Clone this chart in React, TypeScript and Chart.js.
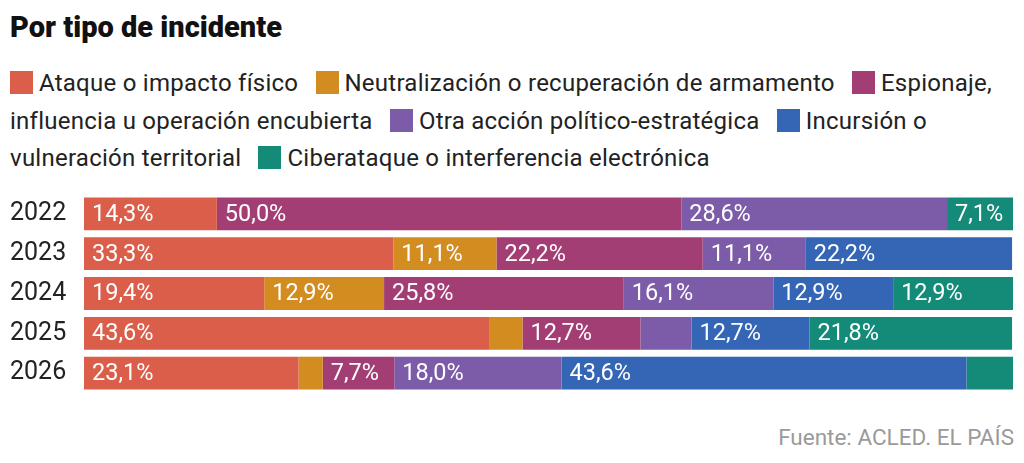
import React, { useEffect, useRef } from "react";
import { Chart, registerables } from "chart.js";

Chart.register(...registerables);

const years = ["2022", "2023", "2024", "2025", "2026"];
const seriesNames = [
  "Ataque o impacto físico",
  "Neutralización o recuperación de armamento",
  "Espionaje, influencia u operación encubierta",
  "Otra acción político-estratégica",
  "Incursión o vulneración territorial",
  "Ciberataque o interferencia electrónica",
];
const seriesColors = ["#DA5E49", "#D38C1F", "#A33E74", "#7C5BA8", "#3466B5", "#148A78"];

const ataque = [14.3, 33.3, 19.4, 43.6, 23.1];
const neutralizacion = [0, 11.1, 12.9, 3.6, 2.6];
const espionaje = [50.0, 22.2, 25.8, 12.7, 7.7];
const otra = [28.6, 11.1, 16.1, 5.5, 18.0];
const incursion = [0, 22.2, 12.9, 12.7, 43.6];
const ciber = [7.1, 0, 12.9, 21.8, 5.0];

const seriesValues = [ataque, neutralizacion, espionaje, otra, incursion, ciber];

const FONT = "Roboto, 'Noto Sans', sans-serif";
const LABEL_MIN = 6;

const barLabels = {
  id: "barLabels",
  afterDatasetsDraw(chart: any) {
    const ctx = chart.ctx;
    ctx.save();
    ctx.font = `400 23.5px ${FONT}`;
    ctx.fillStyle = "#ffffff";
    ctx.textAlign = "left";
    ctx.textBaseline = "middle";
    chart.data.datasets.forEach((ds: any, di: number) => {
      const meta = chart.getDatasetMeta(di);
      meta.data.forEach((el: any, i: number) => {
        const v = ds.data[i];
        if (v >= LABEL_MIN) {
          const txt = v.toFixed(1).replace(".", ",") + "%";
          ctx.fillText(txt, Math.min(el.base, el.x) + 8, el.y + 1);
        }
      });
    });
    ctx.restore();
  },
};

export default function App() {
  const canvasRef = useRef<HTMLCanvasElement>(null);

  useEffect(() => {
    if (!canvasRef.current) return;
    const chart = new Chart(canvasRef.current, {
      type: "bar",
      data: {
        labels: years,
        datasets: seriesNames.map((name, i) => ({
          label: name,
          data: seriesValues[i],
          backgroundColor: seriesColors[i],
          borderWidth: 0,
          barPercentage: 0.825,
          categoryPercentage: 1,
        })),
      },
      options: {
        indexAxis: "y",
        animation: false,
        responsive: false,
        maintainAspectRatio: false,
        layout: { padding: { left: 10, right: 11, top: 0, bottom: 0 } },
        plugins: {
          legend: { display: false },
          tooltip: { enabled: false },
          title: { display: false },
        },
        scales: {
          x: {
            stacked: true,
            min: 0,
            max: 100,
            display: false,
          },
          y: {
            stacked: true,
            grid: { display: false },
            border: { display: false },
            ticks: {
              crossAlign: "far",
              color: "#222222",
              font: { family: FONT, size: 25, weight: "400" },
              padding: 0,
            },
            afterFit(scale: any) {
              scale.width = 74;
            },
          },
        },
      },
      plugins: [barLabels],
    } as any);
    return () => chart.destroy();
  }, []);

  return (
    <div
      style={{
        position: "absolute",
        left: 0,
        top: 0,
        width: 1024,
        height: 463,
        background: "#ffffff",
        fontFamily: FONT,
        color: "#222222",
        overflow: "hidden",
      }}
    >
      <div
        style={{
          position: "absolute",
          left: 10,
          top: 12.9,
          fontSize: 29,
          lineHeight: "29px",
          fontWeight: 900,
          color: "#111111",
          whiteSpace: "nowrap",
        }}
      >
        Por tipo de incidente
      </div>
      <div
        style={{
          position: "absolute",
          left: 10,
          top: 65,
          width: 1008,
          fontSize: 24,
          lineHeight: "37.5px",
          letterSpacing: "0.25px",
          color: "#222222",
        }}
      >
        {seriesNames.map((name, i) => (
          <React.Fragment key={name}>
            <span
              style={{
                display: "inline-block",
                width: 23,
                height: 23,
                background: seriesColors[i],
                verticalAlign: "-3px",
                marginLeft: i === 0 ? 0 : 11,
                marginRight: 6,
              }}
            />
            {name}{" "}
          </React.Fragment>
        ))}
      </div>
      <canvas
        ref={canvasRef}
        width={1024}
        height={229}
        style={{ position: "absolute", left: 0, top: 179, width: 1024, height: 229 }}
      />
      <div
        style={{
          position: "absolute",
          right: 10,
          top: 426,
          fontSize: 22.5,
          lineHeight: "22.5px",
          color: "#9a9a9a",
          whiteSpace: "nowrap",
        }}
      >
        Fuente: ACLED. EL PAÍS
      </div>
    </div>
  );
}
